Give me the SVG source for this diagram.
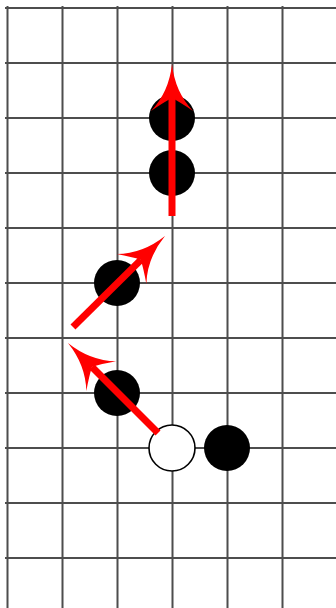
<svg xmlns="http://www.w3.org/2000/svg" width="336" height="608" viewBox="0 0 336 608">
<style>
.g{stroke:#4d4d4d;stroke-width:2;fill:none}
.b{fill:#000}
.w{fill:#fff;stroke:#000;stroke-width:1.6}
.a{stroke:#ff0000;stroke-width:7;fill:none;marker-end:url(#ah)}
</style>
<defs>
<marker id="ah" markerUnits="userSpaceOnUse" viewBox="-50 -25 52 50" markerWidth="52" markerHeight="50" refX="-34" refY="0" orient="auto" overflow="visible">
<path d="M0,0 Q-28,-3 -47,-21 Q-38,-8 -34,0 Q-38,8 -47,21 Q-28,3 0,0 Z" fill="#ff0000"/>
</marker>
</defs>
<rect width="336" height="608" fill="#fff"/>
<g id="grid" class="g">
<path d="M7.5,6V608M62.5,6V608M117.5,6V608M172.5,6V608M227.5,6V608M282.5,6V608"/>
<path d="M5,8H336M5,63H336M5,118H336M5,173H336M5,228H336M5,283H336M5,338H336M5,393H336M5,448H336M5,503H336M5,558H336"/>
</g>
<g id="stone-b1"><circle class="b" cx="172" cy="118" r="23"/></g>
<g id="stone-b2"><circle class="b" cx="172" cy="173" r="23"/></g>
<g id="stone-b3"><circle class="b" cx="117" cy="283" r="23"/></g>
<g id="stone-b4"><circle class="b" cx="117" cy="393" r="23"/></g>
<g id="stone-w1"><circle class="w" cx="172" cy="448" r="23"/></g>
<g id="stone-b5"><circle class="b" cx="227" cy="448" r="23"/></g>
<g id="connectors">
<line class="a" x1="158" y1="433" x2="92" y2="367"/>
<line class="a" x1="73" y1="327" x2="140.8" y2="259.9"/>
<line class="a" x1="172" y1="216" x2="172" y2="98"/>
</g>
</svg>
